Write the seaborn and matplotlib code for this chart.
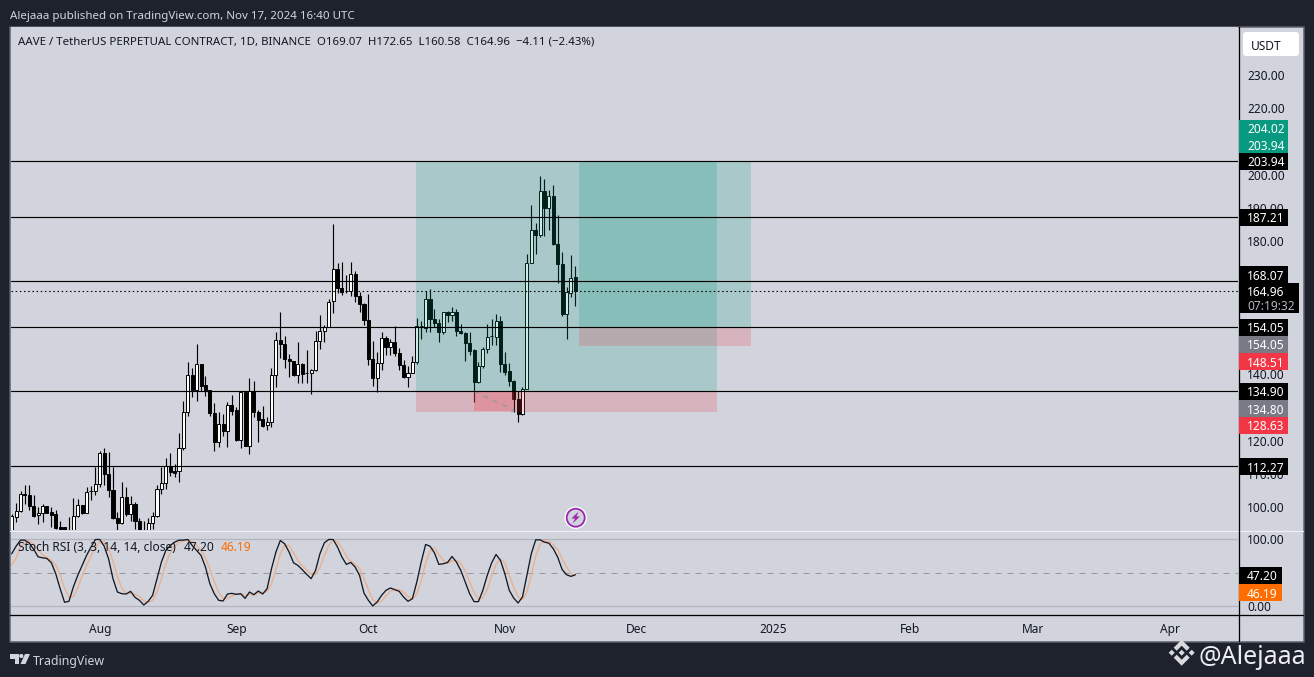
import numpy as np
import pandas as pd
import matplotlib
matplotlib.use("Agg")
import matplotlib.pyplot as plt
import matplotlib.dates as mdates
from matplotlib.patches import Rectangle, Circle, Polygon, FancyBboxPatch
from matplotlib.transforms import Affine2D
import seaborn as sns

# ---- data ----
start_date = "2024-07-12"
opens = [90.9,96.9,98.8,104.0,103.7,100.3,97.65,98.25,100.3,98.65,97.95,94.04,93.9,89.0,91.44,97.25,100.65,98.25,104.8,104.77,
106.97,116.3,110.0,105.2,96.75,95.14,103.16,97.95,100.96,95.74,91.0,92.4,95.14,97.25,105.47,107.27,112.38,110.98,110.78,117.7,
128.53,139.75,135.34,143.06,136.75,135.24,128.33,119.5,125.02,122.8,130.73,129.33,120.2,134.74,118.4,134.84,128.53,126.52,124.62,125.52,
139.75,150.28,149.08,144.57,144.07,139.75,143.16,140.3,140.35,141.25,149.97,152.98,154.08,162.0,171.63,166.01,164.9,164.91,170.12,163.51,
161.2,156.29,144.56,138.75,143.36,150.87,148.07,149.67,146.36,142.75,139.04,140.35,143.56,154.35,153.98,162.6,156.59,155.39,152.58,158.79,
157.79,158.79,153.08,152.38,149.37,147.27,137.54,142.45,147.57,151.35,151.18,155.99,143.05,140.95,138.04,132.53,128.02,135.44,173.43,183.36,
181.85,195.08,189.87,193.58,179.14,173.13,157.99,164.41,169.07]
highs = [98.0,101.3,104.7,106.5,106.5,103.5,99.95,100.96,100.3,99.95,99.25,95.74,94.1,96.9,102.76,102.46,100.65,105.97,106.37,111.98,
117.0,117.8,116.7,112.0,98.45,107.67,105.97,103.47,101.46,96.75,95.74,96.75,98.45,106.77,112.18,114.79,116.4,113.0,122.4,132.0,
143.5,141.76,148.9,143.06,139.55,135.24,131.33,128.73,128.03,131.73,133.74,130.03,134.74,134.74,138.75,137.85,129.33,130.53,127.22,141.86,
152.79,158.8,151.58,146.07,144.07,149.78,143.36,147.37,141.55,153.08,157.79,154.78,162.6,185.26,173.43,173.73,169.92,173.83,171.13,164.61,
161.5,164.11,150.07,146.56,152.78,151.58,150.57,154.58,147.77,144.36,142.55,145.56,157.0,156.09,165.11,165.61,159.6,156.59,158.69,159.09,
160.3,159.6,155.09,152.68,152.58,147.57,143.66,148.07,155.09,156.59,158.09,157.59,146.76,143.25,138.24,134.83,136.04,176.14,190.97,185.46,
199.7,198.69,195.49,196.99,187.97,176.84,166.31,175.94,172.65]
lows = [89.9,95.4,98.5,101.0,99.0,97.1,94.94,95.44,98.2,93.94,93.44,92.94,90.5,88.0,90.93,96.95,97.95,98.25,102.26,103.76,
105.97,106.5,103.0,96.45,92.9,94.94,97.45,95.94,93.44,91.0,89.0,91.5,93.44,96.95,103.97,105.47,109.28,109.0,107.47,117.3,
127.5,133.0,131.85,135.04,133.34,127.53,116.8,118.0,121.5,118.0,127.83,120.0,117.7,118.3,116.0,127.0,119.5,124.0,123.2,124.0,
136.05,144.77,141.76,139.05,139.55,137.25,137.34,137.34,134.03,141.05,147.57,149.57,154.08,158.29,164.31,163.91,164.31,163.41,161.6,158.59,
154.78,142.85,136.54,134.73,141.35,145.86,145.76,145.36,141.35,138.84,136.04,140.35,143.05,150.57,152.78,152.58,154.08,149.77,152.08,155.59,
155.89,151.38,152.08,143.86,145.76,131.53,137.34,141.85,146.26,148.67,148.77,140.75,139.85,136.54,128.52,125.51,127.72,135.44,173.43,176.14,
181.15,181.45,183.36,178.94,167.42,157.59,150.47,163.1,160.58]
closes = [97.2,98.8,104.0,103.5,100.3,97.4,98.25,100.35,98.2,97.75,93.64,93.54,91.5,92.0,97.25,100.65,98.15,104.47,104.9,106.97,
116.3,110.0,105.0,96.65,95.14,103.16,97.95,100.96,95.74,92.4,92.2,95.34,97.25,105.47,107.27,112.38,110.48,110.38,117.8,128.53,
139.75,135.34,143.06,136.55,135.24,128.23,119.5,125.02,122.8,130.73,129.03,120.2,134.74,118.3,134.84,128.53,126.32,124.52,125.52,139.75,
150.28,149.08,144.47,143.86,139.75,143.06,139.95,140.35,141.25,149.97,152.98,154.08,161.7,171.63,165.81,164.61,164.95,170.12,163.41,161.0,
156.19,144.46,138.75,143.36,150.87,148.07,149.67,146.26,142.65,139.04,140.35,143.66,154.38,154.4,162.6,156.49,155.29,152.58,158.69,157.69,
158.69,152.88,152.28,149.37,147.07,137.54,142.45,147.57,151.18,151.4,155.99,142.95,140.75,137.94,132.43,128.02,135.44,173.43,183.26,181.85,
195.08,189.87,193.58,179.04,173.03,157.99,164.71,168.92,164.96]
stoch_k = [78.6,90.0,99.0,99.0,94.5,85.1,74.1,72.6,71.6,65.2,48.8,26.4,6.0,7.5,28.9,46.3,61.2,76.1,88.6,100,
100,90.0,71.1,41.3,21.4,18.9,18.4,22.4,13.4,9.0,2.0,7.5,16.4,41.3,66.2,83.6,91.0,96.0,99.0,99.0,
100,91.0,83.6,76.1,58.7,33.8,18.9,9.0,8.0,18.4,19.4,17.9,18.9,11.9,21.4,17.4,22.9,18.4,26.4,56.2,
81.1,98.5,93.5,81.1,65.2,61.2,54.7,47.8,41.3,53.7,78.6,95.0,100,100,88.6,73.6,62.7,65.7,58.7,46.3,
19.9,9.0,0.5,6.5,16.4,23.9,27.4,24.9,22.4,13.9,7.5,11.4,36.3,66.2,92.5,90.0,80.1,62.7,63.7,65.7,
74.6,66.2,53.7,36.3,18.9,7.0,7.0,23.9,46.3,65.2,77.6,68.7,48.8,23.9,12.4,5.0,13.9,46.3,78.6,99.5,
99.5,96.0,94.5,86.1,73.6,55.2,47.3,44.8,47.2]
stoch_d = [62,72,89.2,96.0,97.5,92.9,84.6,77.3,72.8,69.1,61.9,46.8,27.1,13.3,14.1,27.6,45.5,61.2,75.3,88.2,
96.2,96.7,87.0,67.5,44.6,27.2,19.6,19.9,18.1,14.9,8.1,6.2,8.6,21.7,41.3,63.7,80.3,90.2,95.3,98.0,
99.3,96.7,91.5,83.6,72.8,55.6,37.1,20.6,12.0,11.8,15.3,18.6,18.8,16.2,17.4,16.9,20.6,19.6,22.6,33.7,
54.6,78.6,91.0,91.0,79.8,69.1,60.4,54.6,47.9,47.6,57.9,75.8,91.2,98.3,96.2,87.4,75.0,67.3,62.4,56.9,
41.6,25.1,9.8,5.3,7.8,15.6,22.6,25.4,24.9,21.1,14.5,10.9,18.4,38.0,65.0,83.0,87.5,77.6,68.8,64.0,
68.3,68.8,64.5,52.1,36.3,20.7,11.0,12.6,25.7,45.1,63.0,70.5,65.0,47.1,28.4,13.8,10.4,21.7,46.3,75.1,
92.6,98.3,96.7,92.2,84.7,71.6,58.7,49.1,46.19]
levels = [203.94, 187.21, 168.07, 154.05, 134.90, 112.27]
last_close = 164.96
price_ticks = [100,110,120,140,180,190,200,220,230]
month_ticks = ["2024-08-01","2024-09-01","2024-10-01","2024-11-01","2024-12-01","2025-01-01","2025-02-01","2025-03-01","2025-04-01"]
month_labels = ["Aug","Sep","Oct","Nov","Dec","2025","Feb","Mar","Apr"]
pos1 = dict(start="2024-10-11 18:00", end="2024-12-19 06:00", target=203.94, entry=134.80, stop=128.63)
pos2 = dict(start="2024-11-17 20:00", end="2024-12-27 00:00", target=204.02, entry=154.05, stop=148.51)
zone = dict(start="2024-10-25", end="2024-11-03", top=134.80, bottom=128.90)
path_dates = ["2024-10-25","2024-11-03","2024-11-02"]
path_prices = [134.80, 129.2, 127.9]

# ---- look ----
W, H = 1314, 677
DARK, PANE = "#1e222d", "#d1d4dc"
INK, TXT = "#131722", "#d1d4dc"
sns.set_theme(style="white")
FONT = ["Noto Sans", "DejaVu Sans"]
plt.rcParams["font.family"] = FONT
PX = 0.72

fig = plt.figure(figsize=(W/100, H/100), dpi=100, facecolor=DARK)
T = Affine2D().scale(1/W, -1/H).translate(0, 1) + fig.transFigure
def rect_ax(l, t, r, b):
    return [l/W, 1-b/H, (r-l)/W, (b-t)/H]

fig.add_artist(Rectangle((10, 27), 1293.5, 614.5, transform=T, facecolor=PANE,
                         edgecolor="#5d606b", lw=PX*1.5, zorder=-1))

ax = fig.add_axes(rect_ax(11, 27, 1238, 530), facecolor=PANE)
ax2 = fig.add_axes(rect_ax(11, 531, 1238, 614), facecolor=PANE, sharex=ax)

dates = pd.date_range(start_date, periods=len(closes), freq="D")
df = pd.DataFrame(dict(date=dates, o=opens, h=highs, l=lows, c=closes, k=stoch_k, d=stoch_d))
up = df.c >= df.o

# candles
ax.vlines(df.date, df.l, df.h, color="black", lw=PX*1.15, zorder=2)
ax.bar(df.date[up], (df.c-df.o)[up], bottom=df.o[up], width=0.7, facecolor="white",
       edgecolor="black", lw=PX*0.95, zorder=2.2)
ax.bar(df.date[~up], (df.c-df.o)[~up], bottom=df.o[~up], width=0.7, facecolor="black",
       edgecolor="black", lw=PX*0.95, zorder=2.2)

def band(a, d0, d1, y0, y1, color, alpha):
    t0, t1 = mdates.date2num(pd.Timestamp(d0)), mdates.date2num(pd.Timestamp(d1))
    a.add_patch(Rectangle((t0, y0), t1-t0, y1-y0, facecolor=color, alpha=alpha, lw=0, zorder=4))

for p in (pos1, pos2):
    band(ax, p["start"], p["end"], p["entry"], p["target"], "#089981", 0.2)
    band(ax, p["start"], p["end"], p["stop"], p["entry"], "#f23645", 0.2)
band(ax, zone["start"], zone["end"], zone["bottom"], zone["top"], "#f23645", 0.25)

path = pd.DataFrame(dict(d=pd.to_datetime(path_dates), p=path_prices))
sns.lineplot(data=path, x="d", y="p", ax=ax, color="#9598a1", lw=PX*1.3, sort=False,
             linestyle=(0, (4, 4)), estimator=None, zorder=4.5)

for lv in levels:
    ax.axhline(lv, color="black", lw=PX*1.15, zorder=5)
ax.axhline(last_close, color="black", lw=PX*1.1, ls=(0, (1.4, 2.4)), zorder=5)

ax.set_ylim(93.11, 244.38)
ax.set_xlim(mdates.date2num(pd.Timestamp(start_date)) - 0.16, mdates.date2num(pd.Timestamp(start_date)) + 278.5)
ax.yaxis.tick_right()
ax.set_yticks(price_ticks)
ax.set_yticklabels([f"{v:.2f}" for v in price_ticks])
ax.tick_params(axis="y", length=0, pad=6.4, labelsize=8.6, labelcolor=INK)
ax.tick_params(axis="x", length=0, labelbottom=False)
ax.set_xlabel(""); ax.set_ylabel("")

# stochastic RSI
ax2.axhline(100, color="#b2b5be", lw=PX*1.3, zorder=1)
ax2.axhline(0, color="#b2b5be", lw=PX*1.3, zorder=1)
ax2.axhline(50, color="#9598a1", lw=PX, ls=(0, (6, 6)), zorder=1)
sns.lineplot(data=df, x="date", y="d", ax=ax2, color="#ebb090", lw=PX*1.4, zorder=2)
sns.lineplot(data=df, x="date", y="k", ax=ax2, color="#131722", lw=PX*1.3, zorder=3)
ax2.set_ylim(-11.5, 112.7)
ax2.yaxis.tick_right()
ax2.set_yticks([0, 100])
ax2.set_yticklabels(["0.00", "100.00"])
ax2.tick_params(axis="y", length=0, pad=6.4, labelsize=8.6, labelcolor=INK)
ax2.set_xticks(pd.to_datetime(month_ticks))
ax2.set_xticklabels(month_labels)
ax2.tick_params(axis="x", length=0, pad=6.8, labelsize=8.6, labelcolor=INK)
ax2.get_xticklabels()[5].set_fontweight("bold")
ax2.set_xlabel(""); ax2.set_ylabel("")
for a in (ax, ax2):
    for s in a.spines.values():
        s.set_visible(False)

# pane separators
def hline(x0, x1, y, c, lw=1.0):
    fig.add_artist(plt.Line2D([x0, x1], [y, y], transform=T, color=c, lw=PX*lw, zorder=3))
hline(10, 1303, 530.5, "#eef0f4", 1.2)
hline(10, 1303, 614.5, "black", 1.3)
fig.add_artist(plt.Line2D([1238.5, 1238.5], [27, 641], transform=T, color="black", lw=PX*1.3, zorder=3))

# price tags
def tag(yc, label, bg, fg="white", right=1288, h=17):
    fig.add_artist(Rectangle((1239, yc-h/2), right-1239, h, transform=T, facecolor=bg, lw=0, zorder=4))
    fig.text(1247/W, 1-yc/H, label, color=fg, fontsize=8.6, va="center_baseline", ha="left", zorder=5)

tag(128, "204.02", "#089981")
tag(144.5, "203.94", "#089981")
tag(161.5, "203.94", "black")
tag(217, "187.21", "black")
tag(274.5, "168.07", "black")
fig.add_artist(Rectangle((1239, 283), 60, 30, transform=T, facecolor="black", lw=0, zorder=4))
fig.text(1247/W, 1-291/H, "164.96", color="white", fontsize=8.6, va="center_baseline", zorder=5)
fig.text(1247/W, 1-305.5/H, "07:19:32", color="#b2b5be", fontsize=8.6, va="center_baseline", zorder=5)
tag(327.5, "154.05", "black")
tag(344.5, "154.05", "#787b86")
tag(361.5, "148.51", "#f23645")
tag(391.5, "134.90", "black")
tag(408.5, "134.80", "#787b86")
tag(425.5, "128.63", "#f23645")
tag(466.5, "112.27", "black")
tag(575.5, "47.20", "black", right=1282)
tag(592.5, "46.19", "#ff6d00", right=1282)

# currency button
fig.add_artist(FancyBboxPatch((1245, 34), 52, 20, boxstyle="round,pad=2,rounding_size=3", transform=T,
                              facecolor="white", lw=0, zorder=4))
fig.text(1266/W, 1-44.5/H, "USDT", color=INK, fontsize=8.6, ha="center", va="center_baseline", zorder=5)

# headers
fig.text(10/W, 1-15/H, "Alejaaa published on TradingView.com, Nov 17, 2024 16:40 UTC", color=TXT, fontsize=8.3, va="center_baseline")
fig.text(18/W, 1-41/H, "AAVE / TetherUS PERPETUAL CONTRACT, 1D, BINANCE  O169.07  H172.65  L160.58  C164.96  \u22124.11 (\u22122.43%)",
         color=INK, fontsize=8.26, va="center_baseline", zorder=5)
fig.text(18/W, 1-546/H, "Stoch RSI (3, 3, 14, 14, close)", color=INK, fontsize=8.6, va="center_baseline", zorder=5)
fig.text(184/W, 1-546/H, "47.20", color=INK, fontsize=8.6, va="center_baseline", zorder=5)
fig.text(221/W, 1-546/H, "46.19", color="#ff6d00", fontsize=8.6, va="center_baseline", zorder=5)

# lightning marker
fig.add_artist(Circle((575.7, 517.7), 10.5, transform=T, facecolor=PANE, edgecolor="white", lw=PX*1.5, zorder=4))
fig.add_artist(Circle((575.7, 517.7), 9, transform=T, facecolor=PANE, edgecolor="#9c27b0", lw=PX*1.8, zorder=4))
bolt = [(578.5, 511.5), (571.5, 518.5), (575, 518.5), (572.5, 523.5), (580, 516.5), (576.5, 516.5)]
fig.add_artist(Polygon(bolt, closed=True, transform=T, facecolor="#9c27b0", lw=0, zorder=5))

# TradingView logo and wordmark
logo = "#d1d4dc"
fig.add_artist(Polygon([(10, 654), (19, 654), (19, 664), (14.5, 664), (14.5, 658.5), (10, 658.5)], closed=True, transform=T, facecolor=logo, lw=0))
fig.add_artist(Circle((21.3, 656), 2.1, transform=T, facecolor=logo, lw=0))
fig.add_artist(Polygon([(25, 654), (30, 654), (25.5, 664), (20.5, 664)], closed=True, transform=T, facecolor=logo, lw=0))
fig.text(33/W, 1-659.5/H, "TradingView", color=logo, fontsize=8.9, va="center_baseline")

# watermark
cx, cy = 1181.7, 652.7
wm = "#d8dae0"
def shape(pts):
    fig.add_artist(Polygon([(cx+a, cy+b) for a, b in pts], closed=True, transform=T, facecolor=wm, lw=0, zorder=4))
shape([(0,-13),(8,-5),(5,-2),(0,-7),(-5,-2),(-8,-5)])
shape([(0,13),(8,5),(5,2),(0,7),(-5,2),(-8,5)])
shape([(-13,0),(-10,-3),(-7,0),(-10,3)])
shape([(13,0),(10,-3),(7,0),(10,3)])
shape([(0,-3),(3,0),(0,3),(-3,0)])
fig.text(1199/W, 1-654.5/H, "@Alejaaa", color="#eceef2", fontsize=18, va="center_baseline", zorder=5)

fig.savefig("out.png", dpi=100, facecolor=DARK)
